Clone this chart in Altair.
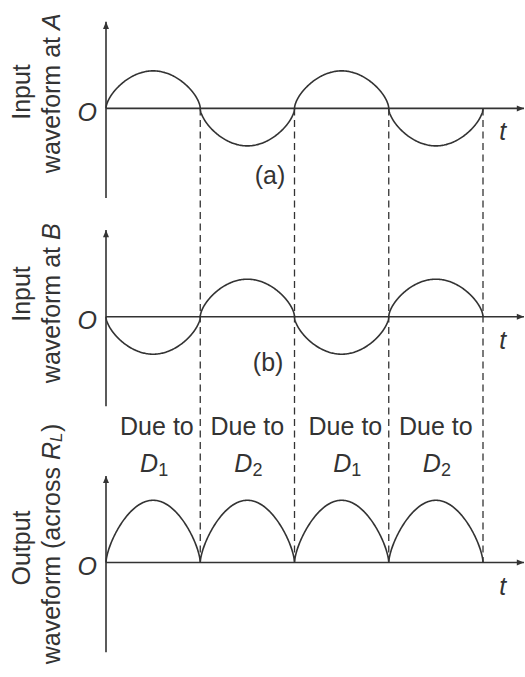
import numpy as np
import pandas as pd
import altair as alt

# Time is measured in half-periods; voltages in units of the input peak.
crossings = [0, 1, 2, 3, 4]            # zero crossings shared by all three traces
polarity_a = [1, -1, 1, -1]            # input at A, one sign per half cycle
polarity_b = [-1, 1, -1, 1]            # input at B (opposite phase)
polarity_out = [1, 1, 1, 1]            # rectified output across R_L
input_peak = 1.0
output_peak = 1.66
input_round = 0.6                       # lobe fullness (1 = plain sine)
output_round = 0.65

panels = ["A", "B", "out"]
panel_base = [12.11, 6.555, 0.0]       # vertical offset of each panel's time axis
axis_up = 2.31                          # y-axis reach above the time axis
axis_down = 2.39                        # y-axis reach below the time axis
t_axis_end = 4.435                      # end of the time axis (arrow tip)

due_x = [0.54, 1.5, 2.54, 3.5]          # centres of the "Due to" captions
d_x = [0.5, 1.5, 2.55, 3.5]             # centres of the diode names
diode_sub = ["1", "2", "1", "2"]

INK = "#333333"
FONT = "Liberation Sans"
FS = 25

X_DOM = [-1.1247, 4.4456]
Y_DOM = [-3.053, 15.0]
xs = alt.Scale(domain=X_DOM, nice=False, zero=False)
ys = alt.Scale(domain=Y_DOM, nice=False, zero=False)


def X(field="x"):
    return alt.X(f"{field}:Q", scale=xs, axis=None)


def Y(field="y"):
    return alt.Y(f"{field}:Q", scale=ys, axis=None)


# ---- waveforms: one rounded lobe per half cycle ------------------------------
rows = []
theta = np.linspace(0, np.pi, 161)
for name, base, pol, amp, rnd in zip(
    panels, panel_base, [polarity_a, polarity_b, polarity_out],
    [input_peak, input_peak, output_peak],
    [input_round, input_round, output_round],
):
    for i, sign in enumerate(pol):
        c0, c1 = crossings[i], crossings[i + 1]
        u = (1 - np.cos(theta)) / 2
        ts = c0 + (c1 - c0) * u
        vs = base + sign * amp * np.clip(np.sin(np.pi * u), 0, None) ** rnd
        for t, v in zip(ts, vs):
            rows.append({"panel": name, "x": float(t), "y": float(v)})
wave_df = pd.DataFrame(rows)

waves = alt.Chart(wave_df).mark_line(color=INK, strokeWidth=1.6).encode(
    x=X(), y=Y(), detail="panel:N", order="x:Q"
)

# ---- axes ------------------------------------------------------------------
axis_rows = []
for base in panel_base:
    axis_rows.append({"x": 0.0, "x2": 0.0, "y": base - axis_down, "y2": base + axis_up})
    axis_rows.append({"x": 0.0, "x2": t_axis_end, "y": base, "y2": base})
axes_df = pd.DataFrame(axis_rows)
axes = alt.Chart(axes_df).mark_rule(color=INK, strokeWidth=1.6).encode(
    x=X(), x2="x2:Q", y=Y(), y2="y2:Q"
)

up_df = pd.DataFrame({"x": [0.0] * 3, "y": [b + axis_up for b in panel_base]})
right_df = pd.DataFrame({"x": [t_axis_end] * 3, "y": panel_base})
arrow_up = alt.Chart(up_df).mark_point(
    shape="M0,0L-0.75,1.8L0.75,1.8Z", filled=True, size=64,
    color=INK, opacity=1, strokeWidth=0
).encode(x=X(), y=Y())
arrow_right = alt.Chart(right_df).mark_point(
    shape="M0,0L-1.8,-0.75L-1.8,0.75Z", filled=True, size=64,
    color=INK, opacity=1, strokeWidth=0
).encode(x=X(), y=Y())

# ---- dashed guides through the zero crossings --------------------------------
dash_df = pd.DataFrame({
    "x": crossings[1:],
    "y": [panel_base[0]] * 4,
    "y2": [panel_base[2]] * 4,
})
dashes = alt.Chart(dash_df).mark_rule(
    color=INK, strokeWidth=1.3, strokeDash=[7, 4.5]
).encode(x=X(), y=Y(), y2="y2:Q")


# ---- text ------------------------------------------------------------------
def text_layer(df, **kw):
    opts = dict(font=FONT, fontSize=FS, color=INK)
    opts.update(kw)
    return alt.Chart(df).mark_text(**opts).encode(x=X(), y=Y(), text="label:N")


origin = text_layer(
    pd.DataFrame({"x": [-0.2] * 3, "y": [b - 0.12 for b in panel_base], "label": ["O"] * 3}),
    fontStyle="italic", align="center", baseline="middle",
)
t_marks = text_layer(
    pd.DataFrame({"x": [4.21] * 3, "y": [b - 0.64 for b in panel_base], "label": ["t"] * 3}),
    fontStyle="italic", align="center", baseline="middle",
)
tags = text_layer(
    pd.DataFrame({"x": [1.74, 1.72],
                  "y": [panel_base[0] - 1.805, panel_base[1] - 1.243],
                  "label": ["(a)", "(b)"]}),
    align="center", baseline="middle",
)

due = text_layer(
    pd.DataFrame({"x": due_x, "y": [3.40] * 4, "label": ["Due to"] * 4}),
    align="center", baseline="alphabetic",
)
d_main = text_layer(
    pd.DataFrame({"x": d_x, "y": [2.413] * 4, "label": ["D"] * 4}),
    fontStyle="italic", align="right", baseline="alphabetic", dx=5,
)
d_sub = text_layer(
    pd.DataFrame({"x": d_x, "y": [2.413] * 4, "label": diode_sub}),
    fontSize=18, align="left", baseline="alphabetic", dx=5, dy=4,
)

# rotated panel titles (read bottom to top)
LINE1_X = -0.891
LINE2_X = -0.573
line1 = text_layer(
    pd.DataFrame({"x": [LINE1_X] * 3, "y": [12.547, 7.16, 0.387],
                  "label": ["Input", "Input", "Output"]}),
    angle=270, align="center", baseline="middle",
)
line2_main = text_layer(
    pd.DataFrame({"x": [LINE2_X] * 3, "y": [14.2, 8.6, 2.733],
                  "label": ["waveform at", "waveform at", "waveform (across"]}),
    angle=270, align="right", baseline="middle", dx=-7,
)
line2_var = text_layer(
    pd.DataFrame({"x": [LINE2_X] * 3, "y": [14.2, 8.6, 2.733],
                  "label": ["A", "B", "R"]}),
    angle=270, align="left", baseline="middle", fontStyle="italic",
)
line2_sub = text_layer(
    pd.DataFrame({"x": [LINE2_X], "y": [2.733], "label": ["L"]}),
    angle=270, align="left", baseline="middle", fontStyle="italic",
    fontSize=17, dx=18, dy=5,
)
line2_close = text_layer(
    pd.DataFrame({"x": [LINE2_X], "y": [2.733], "label": [")"]}),
    angle=270, align="left", baseline="middle", dx=28,
)

chart = alt.layer(
    dashes, axes, arrow_up, arrow_right, waves,
    origin, t_marks, tags, due, d_main, d_sub,
    line1, line2_main, line2_var, line2_sub, line2_close,
).properties(
    width=525, height=677, padding=0,
    autosize=alt.AutoSizeParams(type="none"),
    background="white",
).configure_view(stroke=None)

chart.save("out.html", embed_options={"renderer": "svg", "actions": False})
